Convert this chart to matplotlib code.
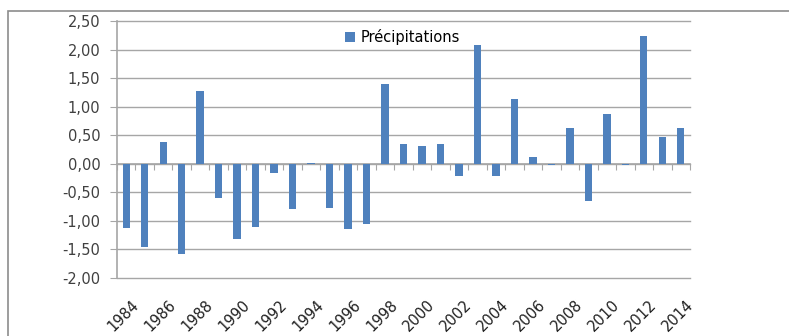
import matplotlib.pyplot as plt
import matplotlib.transforms as mtransforms
from matplotlib.patches import Rectangle
from matplotlib.ticker import FuncFormatter, FixedLocator

years = list(range(1984, 2015))
precip = [-1.12, -1.46, 0.38, -1.58, 1.28, -0.60, -1.31, -1.11, -0.17, -0.80,
          0.01, -0.77, -1.14, -1.05, 1.39, 0.34, 0.31, 0.34, -0.22, 2.08,
          -0.22, 1.14, 0.12, -0.02, 0.63, -0.65, 0.87, -0.02, 2.23, 0.47, 0.63]
label_years = years[::2]

bar_color = "#4F81BD"
grid_color = "#a6a6a6"

plt.rcParams["font.family"] = ["DejaVu Sans"]

fig = plt.figure(figsize=(7.89, 3.36), dpi=100)
ax = fig.add_axes([117 / 789, 1 - 278 / 336, 573 / 789, 257 / 336])

# outer chart frame (cut off on right and bottom like the reference)
top = 1 - 11 / 336
fig.patches.append(Rectangle((8 / 789, -0.1), 1.1, top + 0.1,
                             transform=fig.transFigure, fill=False,
                             edgecolor="#8c8c8c", linewidth=1.2))

x = range(len(years))
ax.bar(x, precip, width=0.4, color=bar_color, label="Précipitations", zorder=3)

ax.set_xlim(-0.5, len(years) - 0.5)
ax.set_ylim(-2.0, 2.5)
ax.set_yticks([-2.0, -1.5, -1.0, -0.5, 0.0, 0.5, 1.0, 1.5, 2.0, 2.5])
ax.yaxis.set_major_formatter(FuncFormatter(lambda v, p: f"{v:.2f}".replace(".", ",")))
ax.tick_params(axis="y", labelsize=10.5, colors="#404040", length=5, color=grid_color, pad=7)
ax.yaxis.grid(True, color=grid_color, linewidth=1.0, zorder=0)
for gl in ax.get_ygridlines():
    gl.set_clip_on(False)

for s in ["top", "right"]:
    ax.spines[s].set_visible(False)
ax.spines["left"].set_color(grid_color)
ax.spines["left"].set_linewidth(1.2)
ax.spines["bottom"].set_position(("data", 0))
ax.spines["bottom"].set_color(grid_color)
ax.spines["bottom"].set_linewidth(1.2)

ax.xaxis.set_major_locator(FixedLocator([i - 0.5 for i in range(len(years) + 1)]))
ax.tick_params(axis="x", length=4, color=grid_color, labelbottom=False)

trans = mtransforms.blended_transform_factory(ax.transData, ax.transAxes)
for yr in label_years:
    ax.text(years.index(yr) + 0.25, -0.075, str(yr), transform=trans, rotation=45,
            ha="right", va="top", rotation_mode="anchor", fontsize=10.5, color="#202020")

ax.legend(loc="upper left", bbox_to_anchor=(0.375, 1.02), frameon=False,
          fontsize=10.5, handlelength=0.7, handleheight=0.7, handletextpad=0.4)

fig.savefig("out.png", dpi=100)
